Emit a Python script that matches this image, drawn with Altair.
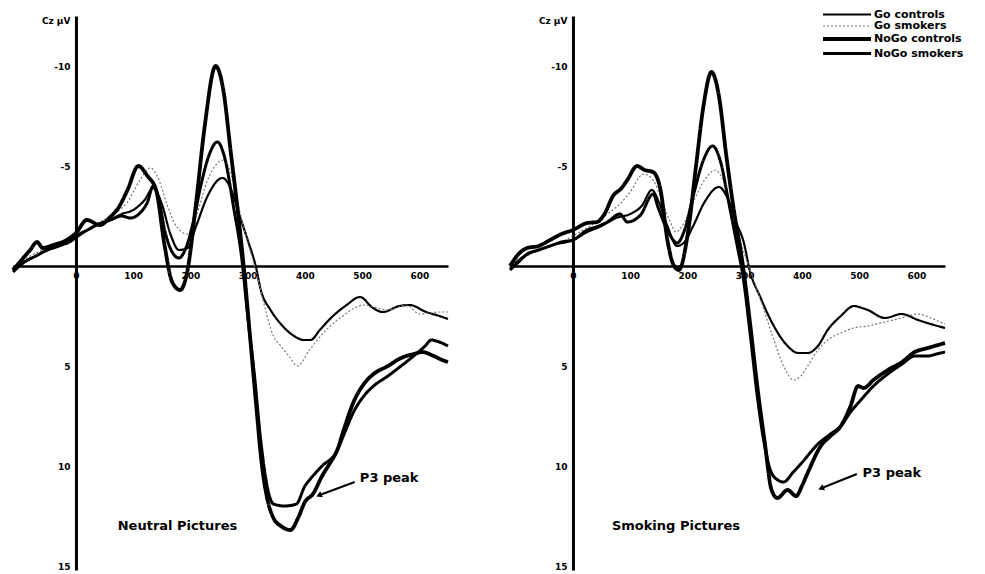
import altair as alt
import pandas as pd

SERIES = ["Go controls", "Go smokers", "NoGo controls", "NoGo smokers"]

# ---------- Neutral Pictures (left panel) ----------
N_GO_CTRL_T = [-110, -90, -70, -50, -30, -10, 0, 20, 40, 60, 80, 100, 120, 135, 150, 165, 180, 195, 210, 230, 256, 270, 285, 300, 314, 323, 340, 358, 381, 398, 410, 426, 449, 473, 496, 519, 536, 565, 583, 612, 635, 650]
N_GO_CTRL_V = [0.2, -0.2, -0.5, -0.8, -1.0, -1.2, -1.4, -1.8, -2.1, -2.3, -2.6, -2.8, -3.3, -3.9, -3.1, -1.6, -0.8, -0.9, -2.0, -3.5, -4.4, -3.9, -2.6, -1.3, 0.0, 1.2, 2.2, 2.9, 3.5, 3.7, 3.7, 3.2, 2.5, 1.95, 1.55, 2.1, 2.3, 2.0, 1.95, 2.3, 2.5, 2.65]

N_GO_SMK_T = [-110, -80, -50, -20, 0, 30, 60, 90, 110, 130, 145, 160, 175, 195, 210, 230, 258, 272, 288, 300, 312, 325, 345, 358, 372, 387, 408, 437, 466, 503, 545, 578, 600, 635, 650]
N_GO_SMK_V = [0.1, -0.5, -0.9, -1.3, -1.5, -2.0, -2.5, -3.2, -4.2, -4.9, -4.3, -3.0, -2.0, -1.6, -2.5, -4.3, -5.3, -4.5, -2.5, -1.2, 0.0, 1.5, 3.5, 4.0, 4.5, 5.0, 4.2, 3.2, 2.5, 1.95, 2.2, 1.95, 2.4, 2.3, 2.3]

N_NOGO_CTRL_T = [-110, -95, -80, -68, -58, -40, -16, 0, 19, 42, 60, 74, 90, 109, 125, 140, 155, 168, 182, 195, 210, 225, 244, 258, 270, 283, 293, 305, 315, 325, 334, 345, 358, 375, 388, 400, 414, 430, 445, 455, 470, 485, 503, 520, 545, 568, 590, 605, 625, 640, 650]
N_NOGO_CTRL_V = [0.2, -0.3, -0.8, -1.2, -0.9, -1.05, -1.3, -1.65, -2.3, -2.05, -2.45, -2.9, -3.8, -5.0, -4.5, -3.8, -1.0, 0.8, 1.2, 0.2, -3.2, -7.0, -10.0, -8.7, -5.8, -2.7, 0.0, 3.8, 7.0, 10.0, 11.6, 12.6, 13.0, 13.2, 12.6, 11.8, 11.4, 10.5, 9.8, 9.3, 8.0, 6.8, 5.9, 5.4, 5.0, 4.6, 4.4, 4.3, 4.5, 4.7, 4.8]

N_NOGO_SMK_T = [-110, -90, -70, -50, -30, -10, 0, 20, 40, 60, 80, 95, 110, 125, 135, 145, 155, 168, 180, 192, 205, 218, 232, 247, 260, 275, 290, 300, 312, 322, 334, 345, 365, 385, 400, 408, 430, 455, 470, 485, 503, 520, 545, 568, 590, 610, 621, 635, 650]
N_NOGO_SMK_V = [0.3, -0.2, -0.5, -0.8, -1.0, -1.3, -1.5, -1.8, -2.1, -2.3, -2.5, -2.4, -2.6, -3.2, -4.0, -3.3, -1.8, -0.7, -0.4, -0.9, -2.2, -4.0, -5.5, -6.2, -5.4, -3.0, -0.3, 2.5, 5.5, 8.5, 11.0, 11.9, 12.0, 11.9, 11.0, 10.7, 10.0, 9.3, 8.3, 7.3, 6.5, 6.0, 5.5, 5.0, 4.5, 4.0, 3.7, 3.8, 4.0]

# ---------- Smoking Pictures (right panel) ----------
S_GO_CTRL_T = [-110, -90, -70, -50, -30, -10, 0, 25, 50, 75, 100, 120, 138, 150, 165, 182, 195, 210, 230, 255, 270, 285, 300, 307, 328, 351, 375, 393, 410, 428, 445, 468, 491, 505, 515, 545, 574, 603, 625, 650]
S_GO_CTRL_V = [0.1, -0.4, -0.7, -0.9, -1.1, -1.2, -1.3, -1.7, -2.0, -2.4, -2.6, -3.0, -3.8, -3.2, -2.0, -1.0, -1.2, -2.0, -3.2, -3.95, -3.4, -2.2, -1.0, 0.0, 1.6, 3.0, 4.0, 4.35, 4.35, 4.0, 3.2, 2.5, 2.0, 2.1, 2.2, 2.6, 2.4, 2.7, 2.9, 3.1]

S_GO_SMK_T = [-110, -80, -50, -20, 0, 30, 60, 82, 100, 123, 140, 155, 170, 180, 195, 215, 235, 249, 262, 278, 295, 307, 328, 351, 368, 386, 398, 410, 428, 445, 468, 490, 515, 545, 574, 603, 625, 650]
S_GO_SMK_V = [0.0, -0.5, -0.9, -1.2, -1.5, -2.0, -2.6, -3.1, -3.7, -4.6, -4.3, -3.3, -2.2, -1.7, -2.2, -3.5, -4.5, -4.8, -4.3, -2.8, -1.0, 0.0, 1.7, 3.7, 5.0, 5.7, 5.5, 5.0, 4.2, 3.7, 3.35, 3.1, 3.0, 2.8, 2.6, 2.4, 2.6, 2.9]

S_NOGO_CTRL_T = [-110, -95, -80, -60, -40, -20, 0, 25, 42, 55, 70, 85, 95, 112, 125, 140, 153, 165, 175, 185, 200, 215, 228, 242, 255, 268, 280, 297, 310, 322, 335, 347, 357, 375, 390, 400, 410, 433, 450, 468, 485, 498, 508, 525, 550, 575, 597, 620, 650]
S_NOGO_CTRL_V = [0.0, -0.6, -0.9, -1.0, -1.3, -1.6, -1.8, -2.15, -2.2, -2.6, -3.5, -3.9, -4.3, -5.0, -4.8, -4.7, -3.8, -1.3, -0.1, 0.2, -1.5, -5.0, -8.0, -9.7, -8.5, -5.5, -3.0, 0.0, 3.0, 6.0, 8.8, 11.2, 11.6, 11.2, 11.5, 11.0, 10.35, 9.0, 8.5, 8.0, 7.0, 6.0, 6.1, 5.7, 5.2, 4.8, 4.3, 4.1, 3.85]

S_NOGO_SMK_T = [-110, -95, -80, -60, -40, -20, 0, 25, 45, 60, 82, 95, 118, 140, 149, 165, 182, 195, 210, 228, 244, 258, 272, 287, 297, 310, 322, 335, 350, 368, 385, 398, 428, 450, 468, 485, 503, 525, 550, 575, 597, 620, 635, 650]
S_NOGO_SMK_V = [0.2, -0.2, -0.6, -0.8, -1.0, -1.2, -1.3, -1.8, -2.0, -2.2, -2.6, -2.2, -2.55, -3.6, -2.9, -1.8, -1.15, -1.8, -3.5, -5.3, -6.0, -5.2, -3.2, -1.0, 0.5, 3.5, 6.5, 9.0, 10.5, 10.8, 10.3, 9.9, 8.9, 8.4, 8.0, 7.3, 6.7, 6.0, 5.4, 4.9, 4.5, 4.5, 4.4, 4.3]

X_TICKS = [0, 100, 200, 300, 400, 500, 600]
Y_TICKS = [-10, -5, 5, 10, 15]
X_DOMAIN = [-110, 650]
Y_DOMAIN = [-12.5, 15.2]

PANEL_TITLES = ["Neutral Pictures", "Smoking Pictures"]
PANEL_TITLE_X = [73, 68]
PANEL_TITLE_Y = [13.0, 13.0]
P3_LABEL = "P3 peak"
P3_TEXT_X = [496, 506]
P3_TEXT_Y = [10.6, 10.35]
P3_TAIL_X = [487, 496]
P3_TAIL_Y = [10.8, 10.4]
P3_HEAD_X = [426, 435]
P3_HEAD_Y = [11.45, 11.1]

W, H = 435, 554
FONT = "DejaVu Sans"

Y_AXIS_OFFSET = -(0 - X_DOMAIN[0]) / (X_DOMAIN[1] - X_DOMAIN[0]) * W
X_AXIS_OFFSET = -(Y_DOMAIN[1] - 0) / (Y_DOMAIN[1] - Y_DOMAIN[0]) * H

X_AXIS = alt.Axis(
    values=X_TICKS, offset=X_AXIS_OFFSET, title=None, ticks=False, grid=False,
    domainColor="black", domainWidth=2.5, labelFont=FONT, labelFontSize=9,
    labelFontWeight="bold", labelColor="black", labelPadding=5)
Y_AXIS = alt.Axis(
    values=Y_TICKS, offset=Y_AXIS_OFFSET, ticks=False, grid=False,
    domainColor="black", domainWidth=3, labelFont=FONT, labelFontSize=9,
    labelFontWeight="bold", labelColor="black", labelPadding=6,
    labelExpr="datum.value < 0 ? '-' + abs(datum.value) : datum.label",
    title="Cz µV", titleAngle=0, titleAlign="right", titleBaseline="middle",
    titleX=-6, titleY=4, titleFont=FONT, titleFontSize=9,
    titleFontWeight="bold", titleColor="black")
XS = alt.Scale(domain=X_DOMAIN, nice=False, zero=False)
YS = alt.Scale(domain=Y_DOMAIN, nice=False, zero=False, reverse=True)


def series_frame(pairs):
    rows = []
    for name, (ts, vs) in zip(SERIES, pairs):
        for t, v in zip(ts, vs):
            rows.append({"series": name, "t": t, "v": v})
    return pd.DataFrame(rows)


legend = alt.Legend(
    title=None, orient="none", legendX=808, legendY=-8,
    symbolType="M-4.8,0H4.8", symbolSize=100, symbolOffset=19,
    labelFont=FONT, labelFontSize=11, labelFontWeight="bold", labelColor="black",
    rowPadding=0, labelOffset=20, symbolFillColor="transparent",
)


def panel(idx, pairs):
    df = series_frame(pairs)
    lines = alt.Chart(df).mark_line(interpolate="monotone").encode(
        x=alt.X("t:Q", scale=XS, axis=X_AXIS),
        y=alt.Y("v:Q", scale=YS, axis=Y_AXIS),
        color=alt.Color("series:N", sort=SERIES, scale=alt.Scale(
            type="ordinal", domain=SERIES,
            range=["#000000", "#777777", "#000000", "#000000"]), legend=legend),
        strokeWidth=alt.StrokeWidth("series:N", sort=SERIES, scale=alt.Scale(
            type="ordinal", domain=SERIES, range=[2.2, 1.2, 3.8, 3.0]), legend=legend),
        strokeDash=alt.StrokeDash("series:N", sort=SERIES, scale=alt.Scale(
            type="ordinal", domain=SERIES, range=[[1, 0], [2, 2], [1, 0], [1, 0]]),
            legend=legend),
        detail="series:N",
    )
    title_df = pd.DataFrame({"x": [PANEL_TITLE_X[idx]], "y": [PANEL_TITLE_Y[idx]],
                             "label": [PANEL_TITLES[idx]]})
    titles = alt.Chart(title_df).mark_text(
        align="left", baseline="middle", font=FONT, fontSize=13, fontWeight="bold",
        color="black").encode(
        x=alt.X("x:Q", scale=XS, axis=X_AXIS), y=alt.Y("y:Q", scale=YS, axis=Y_AXIS),
        text="label:N")
    p3_df = pd.DataFrame({"x": [P3_TEXT_X[idx]], "y": [P3_TEXT_Y[idx]], "label": [P3_LABEL]})
    p3 = alt.Chart(p3_df).mark_text(
        align="left", baseline="middle", font=FONT, fontSize=13, fontWeight="bold",
        color="black").encode(
        x=alt.X("x:Q", scale=XS, axis=X_AXIS), y=alt.Y("y:Q", scale=YS, axis=Y_AXIS),
        text="label:N")
    arrow_df = pd.DataFrame({"x": [P3_TAIL_X[idx]], "y": [P3_TAIL_Y[idx]],
                             "x2": [P3_HEAD_X[idx]], "y2": [P3_HEAD_Y[idx]]})
    shaft = alt.Chart(arrow_df).mark_rule(strokeWidth=2, color="black").encode(
        x=alt.X("x:Q", scale=XS, axis=X_AXIS), y=alt.Y("y:Q", scale=YS, axis=Y_AXIS),
        x2="x2:Q", y2="y2:Q")
    head = alt.Chart(arrow_df).mark_point(
        shape="triangle", filled=True, size=45, angle=247, color="black", opacity=1).encode(
        x=alt.X("x2:Q", scale=XS, axis=X_AXIS), y=alt.Y("y2:Q", scale=YS, axis=Y_AXIS))
    return alt.layer(lines, titles, p3, shaft, head).properties(width=W, height=H)


left = panel(0, [(N_GO_CTRL_T, N_GO_CTRL_V), (N_GO_SMK_T, N_GO_SMK_V),
                 (N_NOGO_CTRL_T, N_NOGO_CTRL_V), (N_NOGO_SMK_T, N_NOGO_SMK_V)])
right = panel(1, [(S_GO_CTRL_T, S_GO_CTRL_V), (S_GO_SMK_T, S_GO_SMK_V),
                  (S_NOGO_CTRL_T, S_NOGO_CTRL_V), (S_NOGO_SMK_T, S_NOGO_SMK_V)])

chart = alt.hconcat(left, right, spacing=46).properties(
    padding={"left": -3, "top": 0, "right": 0, "bottom": 0}
).configure_view(stroke=None).configure_concat(spacing=46)

chart.save("out.html", embed_options={"renderer": "svg", "actions": False})
